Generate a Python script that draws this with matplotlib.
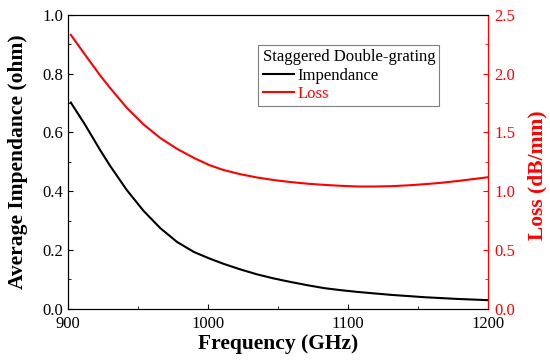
import matplotlib
matplotlib.use("Agg")
import matplotlib.pyplot as plt
from matplotlib.ticker import MultipleLocator

plt.rcParams['font.family'] = ['Liberation Serif', 'DejaVu Serif']

freq = [902, 912, 923, 930, 942, 954, 966, 978, 990, 1001, 1011, 1023, 1035, 1047, 1059, 1071, 1083,
        1095, 1107, 1119, 1131, 1143, 1155, 1167, 1179, 1190, 1200]
impedance = [0.702, 0.628, 0.540, 0.487, 0.404, 0.333, 0.274, 0.227, 0.193, 0.171, 0.153, 0.134, 0.117,
             0.103, 0.091, 0.080, 0.070, 0.063, 0.057, 0.052, 0.047, 0.043, 0.039, 0.036, 0.033, 0.031, 0.029]
loss = [2.331, 2.165, 1.985, 1.880, 1.710, 1.568, 1.452, 1.360, 1.283, 1.222, 1.181, 1.145, 1.117,
        1.095, 1.078, 1.064, 1.054, 1.046, 1.040, 1.040, 1.043, 1.050, 1.060, 1.072, 1.088, 1.104, 1.119]

fig = plt.figure(figsize=(5.5, 3.63), dpi=100)
ax = fig.add_axes([0.1236, 0.1496, 0.7636, 0.8091])
ax2 = ax.twinx()

l1, = ax.plot(freq, impedance, color='black', lw=1.5, label='Impendance')
l2, = ax2.plot(freq, loss, color='red', lw=1.5, label='Loss')

ax.set_xlim(900, 1200)
ax.set_ylim(0, 1.0)
ax2.set_ylim(0, 2.5)
ax.xaxis.set_major_locator(MultipleLocator(100))
ax.xaxis.set_minor_locator(MultipleLocator(50))
ax.yaxis.set_major_locator(MultipleLocator(0.2))
ax.yaxis.set_minor_locator(MultipleLocator(0.1))
ax2.yaxis.set_major_locator(MultipleLocator(0.5))
ax2.yaxis.set_minor_locator(MultipleLocator(0.25))

ax.tick_params(axis='both', which='both', direction='in', top=False, right=False, labelsize=12)
ax.tick_params(axis='x', pad=5)
ax.tick_params(axis='y', pad=3.5)
ax.tick_params(which='major', length=3.5)
ax.tick_params(which='minor', length=2)
ax2.tick_params(axis='y', which='both', direction='in', colors='red', labelsize=12, pad=4.5)
ax2.tick_params(which='major', length=3.5)
ax2.tick_params(which='minor', length=2)
ax2.spines['right'].set_color('red')

ax.set_xlabel('Frequency (GHz)', fontsize=15.5, fontweight='bold')
ax.set_ylabel('Average Impendance (ohm)', fontsize=15.5, fontweight='bold')
ax2.set_ylabel('Loss (dB/mm)', fontsize=15.5, fontweight='bold', color='red')
ax.xaxis.set_label_coords(0.5, -0.085)
ax.yaxis.set_label_coords(-0.0955, 0.5)
ax2.yaxis.set_label_coords(1.093, 0.4555)

leg = ax.legend([l1, l2], ['Impendance', 'Loss'], title='Staggered Double-grating',
                loc='upper left', bbox_to_anchor=(0.4535, 0.898), fontsize=12, title_fontsize=12,
                fancybox=False, edgecolor='gray', framealpha=1, handlelength=1.9,
                handletextpad=0.2, borderpad=0.25, labelspacing=0.15, alignment='left',
                borderaxespad=0)
leg.get_frame().set_linewidth(0.8)
for t, c in zip(leg.get_texts(), ['black', 'red']):
    t.set_color(c)

fig.savefig('out.png', dpi=100)
